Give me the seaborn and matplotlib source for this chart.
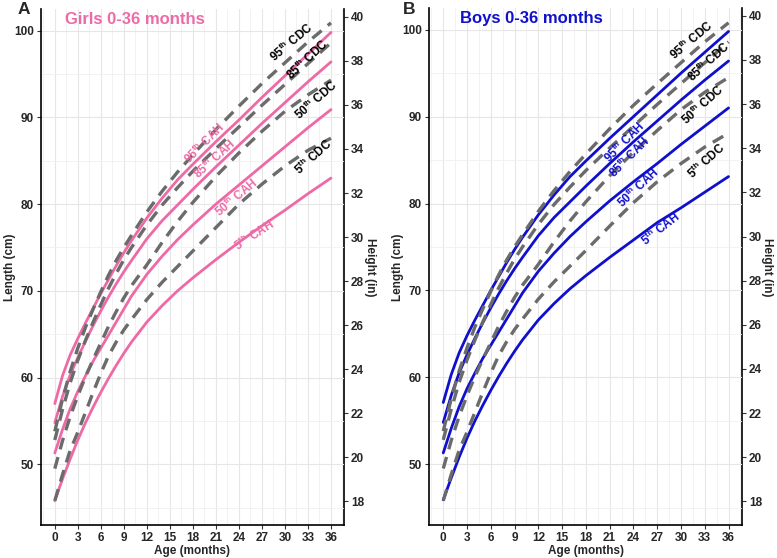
import numpy as np
import pandas as pd
import matplotlib
matplotlib.use("Agg")
import matplotlib.pyplot as plt
import seaborn as sns
from matplotlib.ticker import MultipleLocator

sns.set_theme(style="white")
plt.rcParams["font.family"] = ["Liberation Sans", "DejaVu Sans"]
plt.rcParams["mathtext.fontset"] = "custom"
plt.rcParams["mathtext.rm"] = "Liberation Sans:bold"
plt.rcParams["mathtext.it"] = "Liberation Sans:bold"
plt.rcParams["mathtext.bf"] = "Liberation Sans:bold"

# ---------------- data (months / cm) ----------------
ages = [0, 1, 2, 3, 4, 5, 6, 7, 8, 9, 10, 12, 14, 16, 18, 21, 24, 27, 30, 33, 36]

girls_cah_95 = [57.0, 60.2, 62.6, 64.5, 66.3, 68.0, 69.7, 71.3, 72.9, 74.4, 75.8, 78.4, 80.7, 82.8, 84.6, 87.2, 89.7, 92.3, 94.8, 97.3, 99.8]
girls_cah_85 = [54.8, 57.8, 60.3, 62.3, 64.2, 66.0, 67.7, 69.3, 70.8, 72.2, 73.5, 76.0, 78.1, 79.9, 81.7, 84.3, 86.8, 89.3, 91.7, 94.1, 96.4]
girls_cah_50 = [51.3, 54.0, 56.4, 58.4, 60.2, 61.9, 63.4, 64.9, 66.4, 67.9, 69.4, 71.9, 74.0, 75.9, 77.6, 80.0, 82.2, 84.4, 86.6, 88.8, 90.9]
girls_cah_5 = [45.8, 48.3, 50.6, 52.8, 54.8, 56.6, 58.3, 59.9, 61.4, 62.8, 64.1, 66.4, 68.3, 70.0, 71.5, 73.6, 75.6, 77.5, 79.3, 81.2, 83.0]

girls_cdc_95 = [53.8, 57.5, 60.7, 63.4, 65.8, 67.9, 69.9, 71.8, 73.5, 75.0, 76.4, 79.1, 81.5, 83.7, 85.7, 88.6, 91.3, 93.9, 96.3, 98.7, 100.9]
girls_cdc_85 = [52.8, 56.3, 59.4, 62.0, 64.3, 66.4, 68.4, 70.3, 72.0, 73.6, 75.0, 77.6, 79.9, 81.9, 83.8, 86.4, 88.9, 91.4, 93.8, 96.2, 98.6]
girls_cdc_50 = [49.5, 52.7, 55.5, 57.9, 60.1, 62.1, 64.0, 65.9, 67.6, 69.2, 70.6, 73.0, 75.6, 78.0, 80.2, 83.2, 85.9, 88.4, 90.7, 92.6, 94.3]
girls_cdc_5 = [45.8, 48.8, 51.6, 53.7, 56.0, 58.3, 60.5, 62.5, 64.1, 65.5, 66.7, 69.0, 71.0, 72.8, 74.6, 77.3, 80.0, 82.3, 84.4, 86.2, 87.6]

boys_cah_95 = [57.1, 60.3, 62.8, 64.8, 66.6, 68.3, 70.0, 71.6, 73.2, 74.7, 76.1, 78.7, 81.0, 83.1, 84.9, 87.5, 90.0, 92.5, 95.0, 97.4, 99.8]
boys_cah_85 = [54.8, 57.9, 60.5, 62.6, 64.5, 66.3, 68.0, 69.6, 71.1, 72.5, 73.8, 76.3, 78.4, 80.2, 82.0, 84.6, 87.1, 89.5, 91.9, 94.2, 96.4]
boys_cah_50 = [51.3, 54.1, 56.6, 58.7, 60.5, 62.2, 63.7, 65.2, 66.7, 68.2, 69.7, 72.2, 74.3, 76.2, 77.9, 80.3, 82.5, 84.6, 86.8, 88.9, 91.0]
boys_cah_5 = [45.9, 48.4, 50.8, 53.0, 55.0, 56.8, 58.5, 60.1, 61.6, 63.0, 64.3, 66.6, 68.5, 70.2, 71.7, 73.8, 75.8, 77.8, 79.5, 81.3, 83.1]

boys_cdc_95 = [53.8, 57.5, 60.7, 63.4, 65.8, 67.9, 69.9, 71.8, 73.5, 75.0, 76.4, 79.1, 81.5, 83.7, 85.7, 88.6, 91.3, 93.8, 96.2, 98.6, 100.8]
boys_cdc_85 = [52.8, 56.3, 59.4, 62.0, 64.3, 66.4, 68.4, 70.3, 72.0, 73.6, 75.0, 77.6, 79.9, 81.9, 83.8, 86.4, 88.9, 91.4, 93.8, 96.2, 98.6]
boys_cdc_50 = [49.5, 52.7, 55.5, 57.9, 60.1, 62.1, 64.0, 65.9, 67.6, 69.2, 70.6, 73.0, 75.6, 78.0, 80.2, 83.2, 85.9, 88.4, 90.8, 92.8, 94.5]
boys_cdc_5 = [45.8, 48.8, 51.6, 53.7, 56.0, 58.3, 60.5, 62.5, 64.1, 65.5, 66.7, 69.0, 71.0, 72.8, 74.6, 77.4, 80.1, 82.5, 84.6, 86.5, 88.1]

pct_names = ["95", "85", "50", "5"]

# label positions (age, cm, angle)
girls_cah_lab = [(19.5, 87.0, 45), (20.8, 85.2, 42), (23.7, 80.8, 40), (26.0, 76.4, 33)]
girls_cdc_lab = [(30.9, 98.6, 40), (32.9, 96.7, 43), (34.1, 92.0, 41), (33.7, 85.4, 42)]
boys_cah_lab = [(22.9, 87.1, 45), (23.5, 85.3, 45), (24.6, 81.8, 43), (27.4, 77.1, 38)]
boys_cdc_lab = [(31.3, 98.8, 40), (33.5, 96.3, 42), (32.8, 91.4, 42), (33.2, 84.9, 42)]

PINK = "#EE6AA7"
BLUE = "#1010CC"
GRAY = "#6B6B6B"

W, H = 777, 558
fig = plt.figure(figsize=(7.77, 5.58), dpi=100)
axA = fig.add_axes([41 / W, 1 - 525 / H, (344 - 41) / W, (525 - 9) / H])
axB = fig.add_axes([429 / W, 1 - 525 / H, (742 - 429) / W, (525 - 8) / H])


def draw(ax, cah, cdc, color, cah_lab, cdc_lab, title, title_x, ylab_px, rlab_px):
    for vals in cah:
        sns.lineplot(x=ages, y=vals, ax=ax, color=color, linewidth=2.0,
                     estimator=None, sort=False, legend=False)
    for vals in cdc:
        sns.lineplot(x=ages, y=vals, ax=ax, color=GRAY, linewidth=2.4,
                     linestyle=(0, (3.6, 2.4)), estimator=None, sort=False,
                     legend=False)
    for name, (x, y, a) in zip(pct_names, cah_lab):
        ax.text(x, y, name + r"$^{th}$ CAH", color=color, fontsize=8.5,
                fontweight="bold", rotation=a, rotation_mode="anchor",
                ha="center", va="center")
    for name, (x, y, a) in zip(pct_names, cdc_lab):
        ax.text(x, y, name + r"$^{th}$ CDC", color="black", fontsize=8.5,
                fontweight="bold", rotation=a, rotation_mode="anchor",
                ha="center", va="center")

    ax.set_xlim(-1.8, 37.7)
    ax.set_ylim(43.0, 102.5)
    ax.xaxis.set_major_locator(MultipleLocator(3))
    ax.xaxis.set_minor_locator(MultipleLocator(1.5))
    ax.yaxis.set_major_locator(MultipleLocator(10))
    ax.yaxis.set_minor_locator(MultipleLocator(5))
    ax.grid(True, which="major", color="#E6E6E6", linewidth=0.8)
    ax.grid(True, which="minor", color="#F0F0F0", linewidth=0.6)
    ax.set_axisbelow(True)
    for s in ["top", "right"]:
        ax.spines[s].set_visible(False)
    for s in ["left", "bottom"]:
        ax.spines[s].set_color("black")
        ax.spines[s].set_linewidth(1.2)
    ax.tick_params(axis="both", which="major", bottom=True, left=True,
                   length=3, width=0.8, color="#333333", labelsize=8.5,
                   pad=2)
    ax.tick_params(axis="both", which="minor", bottom=False, left=False)
    for lab in ax.get_xticklabels() + ax.get_yticklabels():
        lab.set_fontweight("bold")
    ax.set_xlabel("Age (months)", fontsize=8.5, fontweight="bold", labelpad=1)
    ax.set_ylabel("")

    sec = ax.secondary_yaxis("right", functions=(lambda v: v / 2.54,
                                                 lambda v: v * 2.54))
    sec.set_yticks(list(range(18, 41, 2)))
    sec.spines["right"].set_color("black")
    sec.spines["right"].set_linewidth(1.2)
    sec.tick_params(axis="y", which="major", right=True, length=3, width=0.8,
                    color="#333333", labelsize=8.5, pad=2)
    sec.tick_params(axis="y", which="minor", right=False)
    for lab in sec.get_yticklabels():
        lab.set_fontweight("bold")

    fig.text(ylab_px / W, 1 - 267 / H, "Length (cm)", rotation=90,
             fontsize=8.5, fontweight="bold", ha="center", va="center")
    fig.text(rlab_px / W, 1 - 267 / H, "Height (in)", rotation=270,
             fontsize=8.5, fontweight="bold", ha="center", va="center")

    ax.text(title_x, 0.98, title, transform=ax.transAxes, color=color,
            fontsize=12, fontweight="bold", ha="left", va="center")
    return sec


draw(axA,
     [girls_cah_95, girls_cah_85, girls_cah_50, girls_cah_5],
     [girls_cdc_95, girls_cdc_85, girls_cdc_50, girls_cdc_5],
     PINK, girls_cah_lab, girls_cdc_lab, "Girls 0-36 months", 0.079, 10, 370)
draw(axB,
     [boys_cah_95, boys_cah_85, boys_cah_50, boys_cah_5],
     [boys_cdc_95, boys_cdc_85, boys_cdc_50, boys_cdc_5],
     BLUE, boys_cah_lab, boys_cdc_lab, "Boys 0-36 months", 0.099, 398, 767)

fig.text(24 / W, 1 - 10 / H, "A", fontsize=12.5, fontweight="bold",
         ha="center", va="center")
fig.text(409 / W, 1 - 9 / H, "B", fontsize=12.5, fontweight="bold",
         ha="center", va="center")

fig.savefig("out.png", dpi=100)
